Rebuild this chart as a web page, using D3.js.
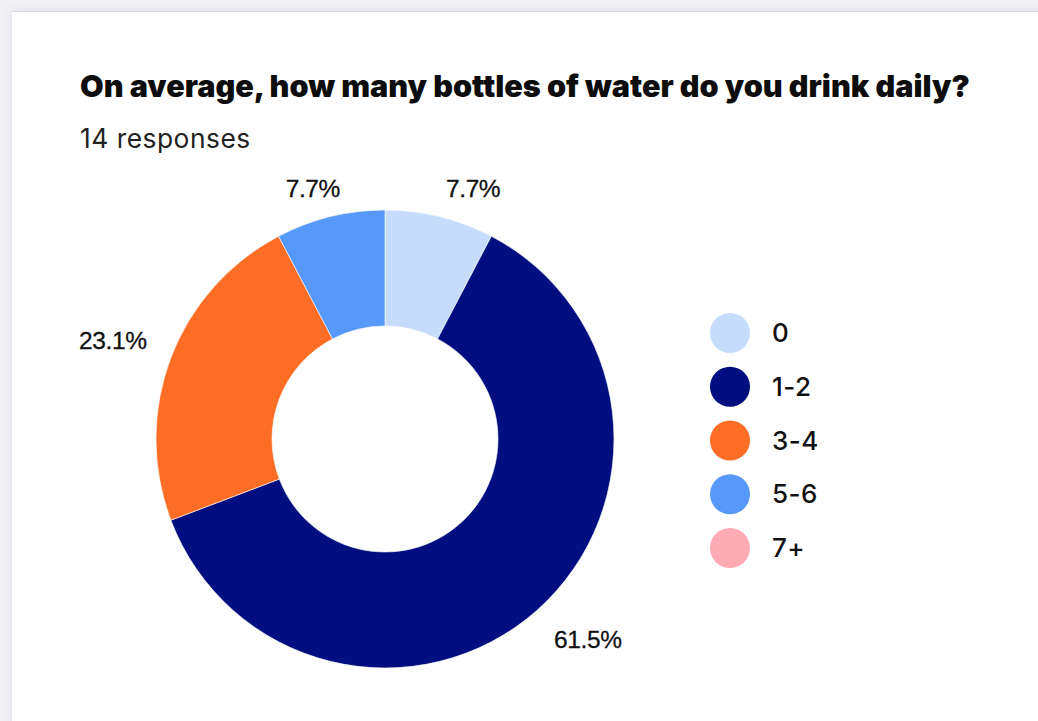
<!DOCTYPE html>
<html>
<head>
<meta charset="utf-8">
<script src="https://cdn.jsdelivr.net/npm/d3@7"></script>
<style>
  html, body { margin: 0; padding: 0; background: #f1f1f4; }
  svg { display: block; }
</style>
</head>
<body>
<svg id="chart" width="1038" height="721"></svg>
<script>
// Survey question and answer tallies
const titleText = "On average, how many bottles of water do you drink daily?";
const responseCount = 14;
const categories = ["0", "1-2", "3-4", "5-6", "7+"];
const counts = [1, 8, 3, 1, 0];
const colors = ["#c6dcfc", "#000e7f", "#fd6d26", "#5799fa", "#ffabb3"];

const W = 1038, H = 721;
const svg = d3.select("#chart");

// card background with soft shadow
const defs = svg.append("defs");
const f = defs.append("filter").attr("id", "shadow")
  .attr("x", "-5%").attr("y", "-5%").attr("width", "110%").attr("height", "110%");
f.append("feDropShadow").attr("dx", 0).attr("dy", 0)
  .attr("stdDeviation", 5).attr("flood-color", "#b8b8c8").attr("flood-opacity", 0.35);

svg.append("rect").attr("x", 0).attr("y", 0).attr("width", W).attr("height", H).attr("fill", "#f1f1f4");
svg.append("rect").attr("x", 12).attr("y", 11).attr("width", W + 20).attr("height", H + 20)
  .attr("fill", "#ffffff").attr("filter", "url(#shadow)");
svg.append("line").attr("x1", 12).attr("x2", W).attr("y1", 11.5).attr("y2", 11.5)
  .attr("stroke", "#dad8e6").attr("stroke-width", 1);

// scale a text's font so it spans the given width
function fitWidth(sel, size, width) {
  const len = sel.node().getComputedTextLength();
  sel.attr("font-size", size * width / len);
}

const title = svg.append("text")
  .attr("x", 80).attr("y", 97)
  .attr("font-family", "Inter, 'Noto Sans', sans-serif")
  .attr("font-weight", 900)
  .attr("font-size", 26)
  .attr("fill", "#0d0d0d")
  .text(titleText);
fitWidth(title, 26, 890);

const sub = svg.append("text")
  .attr("x", 80).attr("y", 148)
  .attr("font-family", "Inter, 'Noto Sans', sans-serif")
  .attr("font-size", 22)
  .attr("fill", "#222222")
  .attr("letter-spacing", 0.5)
  .text(responseCount + " responses");
fitWidth(sub, 22, 172);

// donut
const cx = 385, cy = 439, outerR = 229, innerR = 113;
const total = d3.sum(counts);
const data = categories.map((c, i) => ({ cat: c, value: counts[i], color: colors[i] }));

const pie = d3.pie().sort(null).value(d => d.value);
const arcs = pie(data).filter(a => a.data.value > 0);
const arc = d3.arc().innerRadius(innerR).outerRadius(outerR);

const g = svg.append("g").attr("transform", `translate(${cx},${cy})`);
g.selectAll("path.slice")
  .data(arcs)
  .join("path")
  .attr("class", "slice")
  .attr("d", arc)
  .attr("fill", d => d.data.color)
  .attr("stroke", "#ffffff")
  .attr("stroke-width", 0.6);

// percentage labels: the box corner nearest the center sits on a ring outside the donut
const labelR = 255;
const capH = 18;
const fmt = v => (Math.round(v / total * 1000) / 10).toFixed(1) + "%";
g.selectAll("text.pct")
  .data(arcs)
  .join("text")
  .attr("class", "pct")
  .each(function (d) {
    const a = (d.startAngle + d.endAngle) / 2;
    const s = Math.sin(a), c = Math.cos(a);
    const px = labelR * s, py = -labelR * c;
    // labels close to the top sit a little lower and toward the center line
    const nearTop = Math.abs(s) < 0.3;
    const dx = nearTop && s < 0 ? 16 : 0;
    const dy = nearTop ? 6 : 0;
    d3.select(this)
      .attr("x", px + dx)
      .attr("y", (c >= 0 ? py : py + capH) + dy)
      .attr("text-anchor", s >= 0 ? "start" : "end");
  })
  .attr("font-family", "'Liberation Sans', Arial, sans-serif")
  .attr("font-size", 24.5)
  .attr("letter-spacing", -0.4)
  .attr("fill", "#111111")
  .attr("stroke", "#111111")
  .attr("stroke-width", 0.3)
  .text(d => fmt(d.data.value));

// legend
const legY = d3.scalePoint().domain(categories).range([333, 548]);
const leg = svg.append("g");
const items = leg.selectAll("g.item").data(data).join("g").attr("class", "item")
  .attr("transform", d => `translate(730,${legY(d.cat)})`);
items.append("circle").attr("r", 20).attr("fill", d => d.color);
items.append("text")
  .attr("x", 42).attr("y", 9)
  .attr("font-family", "Inter, 'Noto Sans', sans-serif")
  .attr("font-size", 26)
  .attr("font-weight", 500)
  .attr("letter-spacing", 0.5)
  .attr("fill", "#111111")
  .text(d => d.cat);
</script>
</body>
</html>
